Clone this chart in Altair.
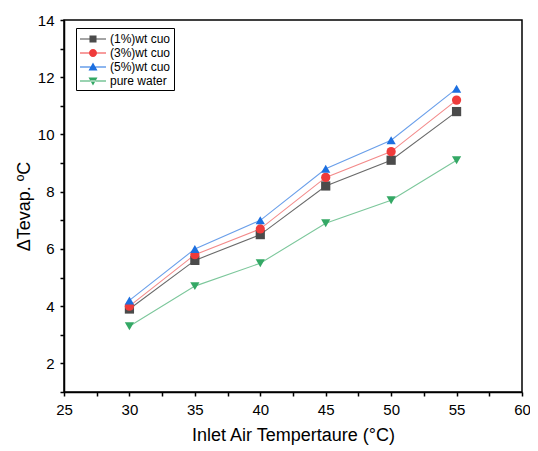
import altair as alt
import pandas as pd

temps = [30, 35, 40, 45, 50, 55]
series_names = ["(1%)wt cuo", "(3%)wt cuo", "(5%)wt cuo", "pure water"]
cuo1 = [3.9, 5.6, 6.5, 8.2, 9.1, 10.8]
cuo3 = [4.0, 5.8, 6.7, 8.5, 9.4, 11.2]
cuo5 = [4.2, 6.0, 7.0, 8.8, 9.8, 11.6]
water = [3.3, 4.7, 5.5, 6.9, 7.7, 9.1]

x_ticks = [25, 27.5, 30, 32.5, 35, 37.5, 40, 42.5, 45, 47.5, 50, 52.5, 55, 57.5, 60]
y_ticks = list(range(1, 15))

marker_colors = ["#4b4b4b", "#ef3b3b", "#1c6fe0", "#34a865"]
line_colors = ["#6a6a6a", "#f38a8a", "#6a9fea", "#7cc79b"]
shapes = ["square", "circle", "triangle-up", "triangle-down"]

rows = []
for name, vals in zip(series_names, [cuo1, cuo3, cuo5, water]):
    for t, v in zip(temps, vals):
        rows.append({"T": t, "dT": v, "series": name})
df = pd.DataFrame(rows)

# legend glyphs: a short line with the marker on it (path units = 8px)
line_p = "M-0.875,-0.0625H2.375V0.0625H-0.875Z"
legend_paths = [
    line_p + "M0.31,-0.44H1.19V0.44H0.31Z",
    line_p + "M1.25,0A0.5,0.5 0 1,1 0.25,0A0.5,0.5 0 1,1 1.25,0Z",
    line_p + "M0.75,-0.55L1.31,0.45L0.19,0.45Z",
    line_p + "M0.75,0.55L1.31,-0.45L0.19,-0.45Z",
]

xscale = alt.Scale(domain=[25, 60], nice=False, zero=False)
yscale = alt.Scale(domain=[1, 14], nice=False, zero=False)

axis_common = dict(
    grid=False,
    labelFontSize=15,
    titleFontSize=18,
    titleFontWeight="normal",
    domainColor="black",
    tickColor="black",
    domainWidth=1.5,
    tickWidth=1.5,
    tickSize=4,
    labelFont="Liberation Sans",
    titleFont="Liberation Sans",
    labelColor="black",
    titleColor="black",
    labelFlush=False,
)

xenc = alt.X(
    "T:Q",
    scale=xscale,
    axis=alt.Axis(
        title="Inlet Air Tempertaure (°C)",
        values=x_ticks,
        labelExpr="datum.value % 5 == 0 ? datum.label : ''",
        labelPadding=6,
        titlePadding=9,
        **axis_common,
    ),
)
yenc = alt.Y(
    "dT:Q",
    scale=yscale,
    axis=alt.Axis(
        title="ΔTevap. ºC",
        values=y_ticks,
        labelExpr="datum.value % 2 == 0 ? datum.label : ''",
        labelPadding=6,
        titlePadding=4,
        **axis_common,
    ),
)

lines = alt.Chart(df).mark_line(strokeWidth=1.1).encode(
    x=xenc,
    y=yenc,
    color=alt.Color("series:N", scale=alt.Scale(domain=series_names, range=line_colors), legend=None),
    detail="series:N",
)

points = alt.Chart(df).mark_point(filled=True, size=85, opacity=1).encode(
    x=xenc,
    y=yenc,
    fill=alt.Fill("series:N", scale=alt.Scale(domain=series_names, range=marker_colors), legend=None),
    shape=alt.Shape("series:N", scale=alt.Scale(domain=series_names, range=shapes), legend=None),
)

legend_cfg = alt.Legend(
    title=None,
    orient="none",
    legendX=12,
    legendY=8,
    strokeColor="black",
    fillColor="white",
    padding=3,
    labelFontSize=12,
    labelFont="Liberation Sans",
    labelColor="black",
    symbolSize=256,
    symbolStrokeWidth=0,
    symbolOpacity=1,
    labelOffset=15,
    rowPadding=0,
)

legend_layer = alt.Chart(df).mark_point(filled=True, opacity=0, size=1).encode(
    x=xenc,
    y=yenc,
    fill=alt.Fill("series:N", scale=alt.Scale(domain=series_names, range=marker_colors), legend=legend_cfg),
    shape=alt.Shape("series:N", scale=alt.Scale(domain=series_names, range=legend_paths), legend=legend_cfg),
)

chart = (
    alt.layer(lines, points, legend_layer)
    .resolve_scale(shape="independent", fill="independent")
    .properties(
        width=458,
        height=372,
        autosize=alt.AutoSizeParams(type="none"),
        padding={"left": 56, "top": 12, "right": 8, "bottom": 57},
    )
    .configure(background="white")
    .configure_view(stroke="black", strokeWidth=1.5)
)

chart.save("out.html", embed_options={"renderer": "svg", "actions": False})
